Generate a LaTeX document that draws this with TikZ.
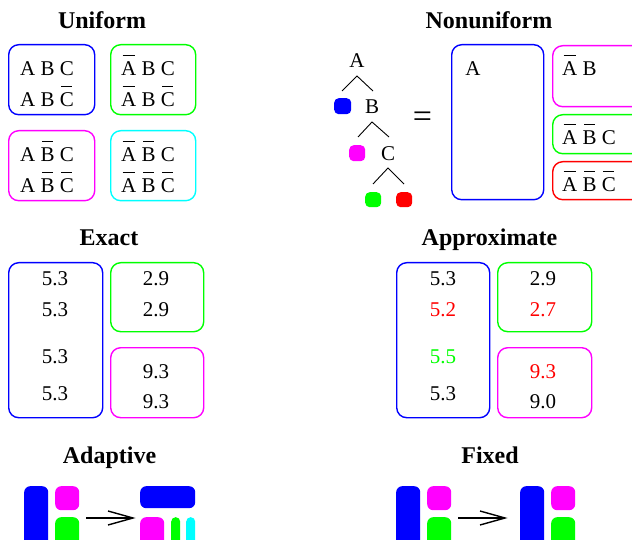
\documentclass[tikz,border=0pt]{standalone}
\usepackage{fontspec}
\setmainfont{Liberation Serif}
\definecolor{cBlue}{RGB}{0,0,255}
\definecolor{cGreen}{RGB}{0,255,0}
\definecolor{cMag}{RGB}{255,0,255}
\definecolor{cCyan}{RGB}{0,255,255}
\definecolor{cRed}{RGB}{255,0,0}
\newcommand\olb[1]{\kern1.5pt\relax$\overline{\mbox{\kern-1.5pt\relax\rule{0pt}{19.5pt}#1\kern-1.5pt\relax}}$\kern1.5pt\relax}
\tikzset{
  box/.style={draw, line width=1.4pt, rounded corners=10pt, inner sep=0pt, anchor=north west},
  blob/.style={fill, rounded corners=4.5pt, inner sep=0pt, anchor=north west},
  txt/.style={inner sep=0pt, font=\fontsize{21}{25}\selectfont},
  num/.style={txt, anchor=base},
  ttl/.style={inner sep=0pt, font=\fontsize{24}{28}\selectfont\bfseries, anchor=base},
  treeline/.style={line width=0.9pt},
  arr/.style={line width=1.4pt},
}
\begin{document}
\begin{tikzpicture}[x=1pt,y=-1pt]
\useasboundingbox (0,0) rectangle (632,540);
\clip (0,0) rectangle (632,540);

% ---------- titles
\node[ttl] (tUni) at (102,29) {Uniform};
\node[ttl] (tNon) at (489,29) {Nonuniform};
\node[ttl] (tExa) at (109,246) {Exact};
\node[ttl] (tApp) at (489.5,246) {Approximate};
\node[ttl] (tAda) at (109.5,463) {Adaptive};
\node[ttl] (tFix) at (490,463) {Fixed};

% ---------- Uniform
\node[box, draw=cBlue, minimum width=86, minimum height=70] (u1) at (8,44) {};
\node[box, draw=cGreen, minimum width=85, minimum height=70] (u2) at (110,44) {};
\node[box, draw=cMag, minimum width=86, minimum height=70] (u3) at (8,130) {};
\node[box, draw=cCyan, minimum width=85, minimum height=70] (u4) at (110,130) {};

\node[txt, anchor=base west] (u1a) at (20,76) {A B C};
\node[txt, anchor=base west] (u1b) at (20,107) {A B \olb{C}};
\node[txt, anchor=base west] (u2a) at (121,76) {\olb{A} B C};
\node[txt, anchor=base west] (u2b) at (121,107) {\olb{A} B \olb{C}};
\node[txt, anchor=base west] (u3a) at (20,162) {A \olb{B} C};
\node[txt, anchor=base west] (u3b) at (20,193) {A \olb{B} \olb{C}};
\node[txt, anchor=base west] (u4a) at (121,162) {\olb{A} \olb{B} C};
\node[txt, anchor=base west] (u4b) at (121,193) {\olb{A} \olb{B} \olb{C}};

% ---------- Nonuniform tree
\node[txt, anchor=base] (tA) at (357,68) {A};
\node[txt, anchor=base] (tB) at (372,114) {B};
\node[txt, anchor=base] (tC) at (388,161) {C};
\coordinate (aT) at (357,76); \coordinate (aL) at (342,91); \coordinate (aR) at (373,91);
\coordinate (bT) at (372,122); \coordinate (bL) at (358,137); \coordinate (bR) at (389,137);
\coordinate (cT) at (388,168); \coordinate (cL) at (373,184); \coordinate (cR) at (404,184);
\draw[treeline] (aL) -- (aT) -- (aR);
\draw[treeline] (bL) -- (bT) -- (bR);
\draw[treeline] (cL) -- (cT) -- (cR);
\node[blob, fill=cBlue, minimum width=17, minimum height=16] (sb) at (334,98) {};
\node[blob, fill=cMag, minimum width=16, minimum height=16] (sm) at (349,145) {};
\node[blob, fill=cGreen, minimum width=16, minimum height=15] (sg) at (365,192) {};
\node[blob, fill=cRed, minimum width=16, minimum height=15] (sr) at (396,192) {};
\node[inner sep=0pt, font=\fontsize{34}{38}\selectfont] (eq) at (422.5,120) {=};

% ---------- Nonuniform boxes
\node[box, draw=cBlue, minimum width=92, minimum height=155] (n1) at (451,44) {};
\node[box, draw=cMag, minimum width=95, minimum height=61] (n2) at (552,45) {};
\node[box, draw=cGreen, minimum width=95, minimum height=39] (n3) at (552,114) {};
\node[box, draw=cRed, minimum width=95, minimum height=38] (n4) at (552,161) {};
\node[txt, anchor=base] (n1a) at (473,76) {A};
\node[txt, anchor=base west] (n2a) at (562,76) {\olb{A} B};
\node[txt, anchor=base west] (n3a) at (562,145) {\olb{A} \olb{B} C};
\node[txt, anchor=base west] (n4a) at (562,192) {\olb{A} \olb{B} \olb{C}};

% ---------- Exact
\node[box, draw=cBlue, minimum width=94, minimum height=155] (e1) at (8,262) {};
\node[box, draw=cGreen, minimum width=93, minimum height=69] (e2) at (110,262) {};
\node[box, draw=cMag, minimum width=93, minimum height=70] (e3) at (110,347) {};
\node[num] (e1a) at (55,285) {5.3};
\node[num] (e1b) at (55,316) {5.3};
\node[num] (e1c) at (55,363) {5.3};
\node[num] (e1d) at (55,400) {5.3};
\node[num] (e2a) at (156,285) {2.9};
\node[num] (e2b) at (156,316) {2.9};
\node[num] (e3a) at (156,378) {9.3};
\node[num] (e3b) at (156,408) {9.3};

% ---------- Approximate
\node[box, draw=cBlue, minimum width=93, minimum height=155] (p1) at (396,262) {};
\node[box, draw=cGreen, minimum width=94, minimum height=69] (p2) at (497,262) {};
\node[box, draw=cMag, minimum width=94, minimum height=70] (p3) at (497,347) {};
\node[num] (p1a) at (443,285) {5.3};
\node[num, text=cRed] (p1b) at (443,316) {5.2};
\node[num, text=cGreen] (p1c) at (443,363) {5.5};
\node[num] (p1d) at (443,400) {5.3};
\node[num] (p2a) at (543,285) {2.9};
\node[num, text=cRed] (p2b) at (543,316) {2.7};
\node[num, text=cRed] (p3a) at (543,378) {9.3};
\node[num] (p3b) at (543,408) {9.0};

% ---------- Adaptive
\node[blob, fill=cBlue, rounded corners=6pt, minimum width=24, minimum height=64] (a1) at (24,486) {};
\node[blob, fill=cMag, rounded corners=6pt, minimum width=24, minimum height=24] (a2) at (55,486) {};
\node[blob, fill=cGreen, rounded corners=6pt, minimum width=24, minimum height=34] (a3) at (55,517) {};
\coordinate (aaL) at (86,518); \coordinate (aaR) at (133,518);
\coordinate (aaU) at (108,511); \coordinate (aaD) at (108,525);
\draw[arr] (aaL) -- (aaR);
\draw[arr] (aaU) -- (aaR) -- (aaD);
\node[blob, fill=cBlue, rounded corners=6pt, minimum width=55, minimum height=22] (a4) at (140,486) {};
\node[blob, fill=cMag, rounded corners=6pt, minimum width=24, minimum height=34] (a5) at (140,517) {};
\node[blob, fill=cGreen, rounded corners=4.4pt, minimum width=9, minimum height=34] (a6) at (171,517) {};
\node[blob, fill=cCyan, rounded corners=4.4pt, minimum width=9, minimum height=34] (a7) at (186,517) {};

% ---------- Fixed
\node[blob, fill=cBlue, rounded corners=6pt, minimum width=24, minimum height=64] (f1) at (396,486) {};
\node[blob, fill=cMag, rounded corners=6pt, minimum width=24, minimum height=24] (f2) at (427,486) {};
\node[blob, fill=cGreen, rounded corners=6pt, minimum width=24, minimum height=34] (f3) at (427,517) {};
\coordinate (faL) at (458,518); \coordinate (faR) at (505,518);
\coordinate (faU) at (480,511); \coordinate (faD) at (480,525);
\draw[arr] (faL) -- (faR);
\draw[arr] (faU) -- (faR) -- (faD);
\node[blob, fill=cBlue, rounded corners=6pt, minimum width=24, minimum height=64] (f4) at (520,486) {};
\node[blob, fill=cMag, rounded corners=6pt, minimum width=24, minimum height=24] (f5) at (551,486) {};
\node[blob, fill=cGreen, rounded corners=6pt, minimum width=24, minimum height=34] (f6) at (551,517) {};
\end{tikzpicture}
\end{document}
